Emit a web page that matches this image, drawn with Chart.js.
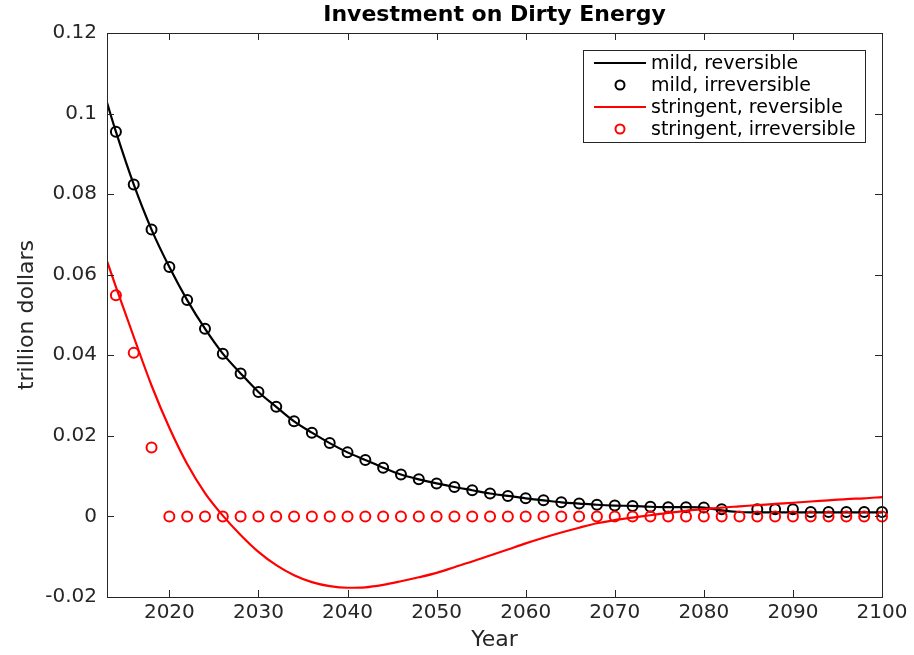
<!DOCTYPE html>
<html>
<head>
<meta charset="utf-8">
<script src="https://cdn.jsdelivr.net/npm/chart.js@4.4.0/dist/chart.umd.min.js"></script>
<style>
  html, body { margin: 0; padding: 0; background: #fff; }
  #wrap { width: 914px; height: 655px; position: relative; }
</style>
</head>
<body>
<div id="wrap"><canvas id="chart"></canvas></div>
<script>
// years for the continuous curves and the even-year markers
const lineYears = [2013, 2014, 2016, 2018, 2020, 2022, 2024, 2026, 2028, 2030, 2032, 2034, 2036, 2038, 2040,
  2042, 2044, 2046, 2048, 2050, 2052, 2054, 2056, 2058, 2060, 2062, 2064, 2066, 2068, 2070,
  2072, 2074, 2076, 2078, 2080, 2082, 2084, 2086, 2088, 2090, 2092, 2094, 2096, 2098, 2100];
const markerYears = [2014, 2016, 2018, 2020, 2022, 2024, 2026, 2028, 2030, 2032, 2034, 2036, 2038, 2040,
  2042, 2044, 2046, 2048, 2050, 2052, 2054, 2056, 2058, 2060, 2062, 2064, 2066, 2068, 2070,
  2072, 2074, 2076, 2078, 2080, 2082, 2084, 2086, 2088, 2090, 2092, 2094, 2096, 2098, 2100];

const mildReversible = [0.1027, 0.0955, 0.0824, 0.0712, 0.0619, 0.0537, 0.0466, 0.0404, 0.0355, 0.0309, 0.0272, 0.0236, 0.0208, 0.0182, 0.0159,
  0.0140, 0.0121, 0.0104, 0.0092, 0.0082, 0.0073, 0.0065, 0.0057, 0.0051, 0.0045, 0.0040, 0.0035, 0.0032, 0.0029, 0.0027,
  0.0026, 0.0024, 0.0023, 0.0023, 0.0022, 0.0015, 0.0011, 0.0010, 0.0010, 0.0010, 0.0010, 0.0010, 0.0010, 0.0010, 0.0010];
const mildIrreversible = [0.0955, 0.0824, 0.0712, 0.0619, 0.0537, 0.0466, 0.0404, 0.0355, 0.0309, 0.0272, 0.0236, 0.0208, 0.0182, 0.0159,
  0.0140, 0.0121, 0.0104, 0.0092, 0.0082, 0.0073, 0.0065, 0.0057, 0.0051, 0.0045, 0.0040, 0.0035, 0.0032, 0.0029, 0.0027,
  0.0026, 0.0024, 0.0023, 0.0023, 0.0022, 0.0018, null, 0.0018, 0.0018, 0.0018, 0.0011, 0.0011, 0.0011, 0.0011, 0.0011];
const stringentReversible = [0.0634, 0.0570, 0.0446, 0.0325, 0.0220, 0.0130, 0.0058, 0.0002, -0.0046, -0.0088, -0.0121, -0.0146, -0.0163, -0.0173, -0.0177,
  -0.0176, -0.0170, -0.0161, -0.0151, -0.0140, -0.0126, -0.0112, -0.0097, -0.0082, -0.0067, -0.0053, -0.0040, -0.0028, -0.0017, -0.0009,
  -0.0003, 0.0003, 0.0009, 0.0014, 0.0018, 0.0022, 0.0025, 0.0028, 0.0031, 0.0034, 0.0037, 0.0040, 0.0043, 0.0045, 0.0048];
const stringentIrreversible = [0.0549, 0.0406, 0.0171, 0, 0, 0, 0, 0, 0, 0, 0, 0, 0, 0,
  0, 0, 0, 0, 0, 0, 0, 0, 0, 0, 0, 0, 0, 0, 0,
  0, 0, 0, 0, 0, 0, 0, 0, 0, 0, 0, 0, 0, 0, 0];

const xTicks = [2020, 2030, 2040, 2050, 2060, 2070, 2080, 2090, 2100];
const yTicks = [-0.02, 0, 0.02, 0.04, 0.06, 0.08, 0.1, 0.12];

const FONT = 'DejaVu Sans';
const AXIS = '#262626';

const pts = (xs, ys) => xs.map((x, i) => ({ x, y: ys[i] }));

// box with inward ticks on all four sides, plus the legend in the corner
const boxPlugin = {
  id: 'box',
  afterDraw(chart) {
    const { ctx, chartArea: a, scales } = chart;
    ctx.save();
    ctx.strokeStyle = AXIS;
    ctx.lineWidth = 1;
    ctx.strokeRect(a.left + 0.5, a.top + 0.5, a.right - a.left, a.bottom - a.top);
    const len = 7;
    ctx.beginPath();
    xTicks.forEach(v => {
      const x = Math.round(scales.x.getPixelForValue(v)) + 0.5;
      ctx.moveTo(x, a.bottom); ctx.lineTo(x, a.bottom - len);
      ctx.moveTo(x, a.top); ctx.lineTo(x, a.top + len);
    });
    yTicks.forEach(v => {
      const y = Math.round(scales.y.getPixelForValue(v)) + 0.5;
      ctx.moveTo(a.left, y); ctx.lineTo(a.left + len, y);
      ctx.moveTo(a.right, y); ctx.lineTo(a.right - len, y);
    });
    ctx.stroke();

    // legend
    const lx = 583, ly = 50, lw = 282, lh = 92;
    ctx.fillStyle = '#fff';
    ctx.fillRect(lx, ly, lw, lh);
    ctx.strokeStyle = AXIS;
    ctx.strokeRect(lx + 0.5, ly + 0.5, lw, lh);
    ctx.font = '19px "' + FONT + '"';
    ctx.textBaseline = 'middle';
    chart.data.datasets.forEach((ds, i) => {
      const y = ly + 13 + i * 22;
      ctx.strokeStyle = ds.borderColor;
      ctx.lineWidth = 2;
      if (ds.showLine === false) {
        ctx.beginPath();
        ctx.arc(620, y, 4.5, 0, Math.PI * 2);
        ctx.stroke();
      } else {
        ctx.beginPath();
        ctx.moveTo(594, y); ctx.lineTo(646, y);
        ctx.stroke();
      }
      ctx.fillStyle = '#000';
      ctx.fillText(ds.label, 651, y + 1);
    });
    ctx.restore();
  }
};

new Chart(document.getElementById('chart'), {
  type: 'scatter',
  data: {
    datasets: [
      {
        label: 'mild, reversible',
        data: pts(lineYears, mildReversible),
        showLine: true, borderColor: '#000', borderWidth: 2.2,
        pointRadius: 0, cubicInterpolationMode: 'monotone', order: 4
      },
      {
        label: 'mild, irreversible',
        data: pts(markerYears, mildIrreversible),
        showLine: false, borderColor: '#000', backgroundColor: 'rgba(0,0,0,0)',
        pointRadius: 5, pointBorderWidth: 2, clip: false, order: 3
      },
      {
        label: 'stringent, reversible',
        data: pts(lineYears, stringentReversible),
        showLine: true, borderColor: '#f00', borderWidth: 2.2,
        pointRadius: 0, cubicInterpolationMode: 'monotone', order: 2
      },
      {
        label: 'stringent, irreversible',
        data: pts(markerYears, stringentIrreversible),
        showLine: false, borderColor: '#f00', backgroundColor: 'rgba(0,0,0,0)',
        pointRadius: 5, pointBorderWidth: 2, clip: false, order: 1
      }
    ]
  },
  options: {
    responsive: true,
    maintainAspectRatio: false,
    animation: false,
    events: [],
    layout: { padding: { left: 0, top: 0, right: 32, bottom: 0 } },
    plugins: {
      legend: { display: false },
      tooltip: { enabled: false },
      title: {
        display: true,
        text: 'Investment on Dirty Energy',
        fullSize: false,
        color: '#000',
        font: { family: FONT, size: 22, weight: 'bold' },
        padding: { top: 2, bottom: 4.6 }
      }
    },
    scales: {
      x: {
        type: 'linear', min: 2013, max: 2100,
        grid: { display: false, drawTicks: false },
        border: { display: false },
        afterBuildTicks: s => { s.ticks = xTicks.map(v => ({ value: v })); },
        afterFit: s => { s.height = 58; },
        ticks: {
          autoSkip: false, maxRotation: 0, padding: 4, color: AXIS,
          font: { family: FONT, size: 20 },
          callback: v => String(v)
        },
        title: {
          display: true, text: 'Year', color: AXIS,
          font: { family: FONT, size: 22 },
          padding: { top: 0, bottom: 2 }
        }
      },
      y: {
        type: 'linear', min: -0.02, max: 0.12,
        grid: { display: false, drawTicks: false },
        border: { display: false },
        afterBuildTicks: s => { s.ticks = yTicks.map(v => ({ value: v })); },
        afterFit: s => { s.width = 107; },
        ticks: {
          autoSkip: false, padding: 10, color: AXIS,
          font: { family: FONT, size: 20 },
          callback: v => String(v)
        },
        title: {
          display: true, text: 'trillion dollars', color: AXIS,
          font: { family: FONT, size: 22 },
          padding: { top: 14, bottom: 0 }
        }
      }
    }
  },
  plugins: [boxPlugin]
});
</script>
</body>
</html>
